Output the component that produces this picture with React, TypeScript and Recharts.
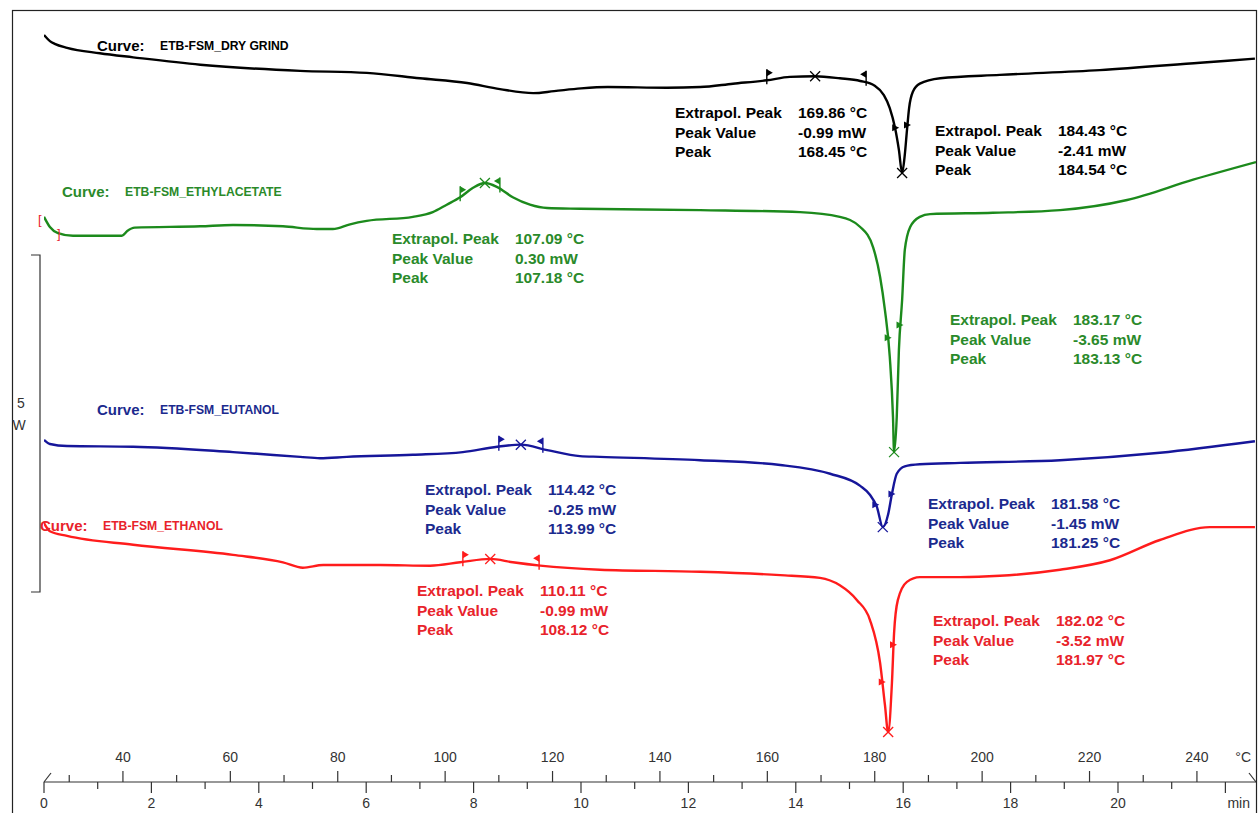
import React from 'react';
import { ComposedChart, Line, Scatter, XAxis, YAxis } from 'recharts';

// ---------------------------------------------------------------------------
// Layout / scale constants
// ---------------------------------------------------------------------------

const W = 1258;
const H = 813;
const FONT = '"Liberation Sans", Arial, sans-serif';

const T_START = 25.3; // °C at 0 min
const RATE = 10; // K/min
const TIME_END = 22.57; // min at right edge of plot
const TEMP_END = T_START + RATE * TIME_END;
const Y_MAX = 11.42; // mW span of the plot (stacked curves)

const COLORS = {
  dry: '#000000',
  ethyl: '#1c8a1c',
  eut: '#16169a',
  eth: '#ff1c1c',
};
const TEXT = {
  dry: '#000000',
  ethyl: '#2a8a2a',
  eut: '#1b2a8e',
  eth: '#e8232b',
};

// ---------------------------------------------------------------------------
// Data (time in min, heat flow in mW incl. stacking offset)
// ---------------------------------------------------------------------------

const dryTime = [0, 0.11, 0.2, 0.43, 1.04, 1.66, 2.91, 4.77, 6.01, 7.0, 7.88, 8.49, 9.11, 9.5, 10.0, 10.5, 11.6, 12.22, 12.83, 13.46, 13.89, 14.36, 14.82, 15.2, 15.47, 15.64, 15.75, 15.85, 15.92, 15.98, 16.03, 16.07, 16.11, 16.18, 16.31, 16.69, 17.8, 19.66, 21.53, 22.55];
const dryFlow = [11.05, 10.96, 10.92, 10.86, 10.78, 10.72, 10.61, 10.52, 10.49, 10.41, 10.34, 10.25, 10.19, 10.22, 10.26, 10.28, 10.27, 10.28, 10.33, 10.38, 10.43, 10.44, 10.41, 10.37, 10.3, 10.16, 9.97, 9.67, 9.35, 9.01, 9.28, 9.64, 9.97, 10.21, 10.33, 10.41, 10.46, 10.53, 10.64, 10.7];

const ethylTime = [0, 0.11, 0.26, 0.54, 1.45, 1.55, 1.69, 2.91, 3.52, 4.45, 5.08, 5.38, 5.7, 6.01, 6.87, 7.24, 7.5, 7.75, 7.99, 8.21, 8.44, 8.73, 9.05, 9.37, 9.98, 12.22, 14.08, 14.82, 15.2, 15.44, 15.57, 15.66, 15.75, 15.81, 15.83, 15.88, 15.92, 15.98, 16.03, 16.13, 16.31, 16.5, 17.67, 18.92, 20.17, 21.4, 22.57];
const ethylFlow = [8.36, 8.21, 8.12, 8.08, 8.08, 8.15, 8.2, 8.22, 8.24, 8.22, 8.18, 8.18, 8.25, 8.3, 8.36, 8.43, 8.54, 8.65, 8.79, 8.86, 8.8, 8.65, 8.54, 8.49, 8.48, 8.46, 8.43, 8.36, 8.21, 7.91, 7.47, 6.98, 6.29, 5.4, 4.88, 5.4, 6.39, 7.13, 7.87, 8.21, 8.36, 8.4, 8.42, 8.46, 8.61, 8.91, 9.17];

const eutTime = [0, 0.11, 0.43, 1.66, 3.52, 4.77, 5.14, 5.64, 6.87, 7.8, 8.44, 8.88, 9.37, 9.98, 10.35, 12.22, 13.71, 14.64, 15.2, 15.38, 15.51, 15.62, 15.72, 15.79, 15.88, 16.03, 16.31, 17.06, 18.92, 20.78, 22.55];
const eutFlow = [5.06, 5.0, 4.97, 4.96, 4.88, 4.81, 4.79, 4.81, 4.84, 4.88, 4.96, 4.99, 4.91, 4.82, 4.81, 4.76, 4.69, 4.56, 4.38, 4.25, 4.07, 3.77, 3.96, 4.26, 4.56, 4.67, 4.7, 4.72, 4.76, 4.87, 5.04];

const ethTime = [0, 0.11, 0.43, 1.66, 3.52, 4.45, 4.82, 5.2, 6.26, 7.19, 7.75, 8.31, 8.73, 9.24, 10.35, 12.22, 13.71, 14.45, 14.82, 15.14, 15.38, 15.57, 15.66, 15.72, 15.79, 15.83, 15.9, 16.07, 16.31, 17.06, 17.8, 18.92, 19.85, 20.78, 21.71, 22.55];
const ethFlow = [3.83, 3.71, 3.64, 3.51, 3.36, 3.25, 3.17, 3.21, 3.21, 3.2, 3.25, 3.3, 3.25, 3.2, 3.14, 3.11, 3.06, 3.02, 2.91, 2.69, 2.4, 1.76, 1.14, 0.74, 1.46, 2.2, 2.69, 2.96, 3.03, 3.03, 3.05, 3.14, 3.28, 3.58, 3.77, 3.77];

// peak positions (X marks), by sample temperature in °C
const dryPeaks = [{ T: 168.9, v: 10.44 }, { T: 185.1, v: 9.01 }];
const ethylPeaks = [{ T: 107.4, v: 8.86 }, { T: 183.6, v: 4.88 }];
const eutPeaks = [{ T: 114.1, v: 4.99 }, { T: 181.5, v: 3.77 }];
const ethPeaks = [{ T: 108.4, v: 3.3 }, { T: 182.5, v: 0.74 }];

// integration limits / onset flags (time in min)
const dryFlags = [
  { t: 13.46, v: 10.38, kind: 'r' },
  { t: 15.31, v: 10.36, kind: 'l' },
  { t: 15.86, v: 9.68, kind: 'tri' },
  { t: 16.08, v: 9.72, kind: 'tri' },
];
const ethylFlags = [
  { t: 7.75, v: 8.65, kind: 'r' },
  { t: 8.49, v: 8.78, kind: 'l' },
  { t: 15.72, v: 6.57, kind: 'tri' },
  { t: 15.94, v: 6.76, kind: 'tri' },
];
const eutFlags = [
  { t: 8.47, v: 4.96, kind: 'r' },
  { t: 9.29, v: 4.93, kind: 'l' },
  { t: 15.49, v: 4.1, kind: 'tri' },
  { t: 15.79, v: 4.26, kind: 'tri' },
];
const ethFlags = [
  { t: 7.8, v: 3.25, kind: 'r' },
  { t: 9.22, v: 3.2, kind: 'l' },
  { t: 15.61, v: 1.48, kind: 'tri' },
  { t: 15.82, v: 2.03, kind: 'tri' },
];

// axis ticks
const timeTicks = [...Array.from({ length: 23 }, (_, i) => i), TIME_END];
const tempTicks = [...Array.from({ length: 22 }, (_, i) => 30 + i * 10), TEMP_END];

// annotation texts
const curveNames = ['ETB-FSM_DRY GRIND', 'ETB-FSM_ETHYLACETATE', 'ETB-FSM_EUTANOL', 'ETB-FSM_ETHANOL'];
const peakLabels = ['Extrapol. Peak', 'Peak Value', 'Peak'];
const dryLeft = ['169.86 °C', '-0.99 mW', '168.45 °C'];
const dryRight = ['184.43 °C', '-2.41 mW', '184.54 °C'];
const ethylLeft = ['107.09 °C', '0.30 mW', '107.18 °C'];
const ethylRight = ['183.17 °C', '-3.65 mW', '183.13 °C'];
const eutLeft = ['114.42 °C', '-0.25 mW', '113.99 °C'];
const eutRight = ['181.58 °C', '-1.45 mW', '181.25 °C'];
const ethLeft = ['110.11 °C', '-0.99 mW', '108.12 °C'];
const ethRight = ['182.02 °C', '-3.52 mW', '181.97 °C'];

const zip = (t: number[], v: number[]) => t.map((x, i) => ({ t: x, v: v[i] }));

// ---------------------------------------------------------------------------
// Marks
// ---------------------------------------------------------------------------

function PeakX({ cx, cy, color }: any) {
  if (cx == null || cy == null) return null;
  const d = 5;
  return (
    <g stroke={color} strokeWidth={1.3}>
      <line x1={cx - d} y1={cy - d} x2={cx + d} y2={cy + d} />
      <line x1={cx - d} y1={cy + d} x2={cx + d} y2={cy - d} />
    </g>
  );
}

function Flag({ cx, cy, payload, color }: any) {
  if (cx == null || cy == null) return null;
  const k = payload.kind;
  if (k === 'tri') {
    return <polygon points={`${cx - 3.5},${cy - 3.5} ${cx + 3.5},${cy} ${cx - 3.5},${cy + 3.5}`} fill={color} />;
  }
  const s = k === 'r' ? 1 : -1;
  const top = cy - 11;
  return (
    <g>
      <line x1={cx} y1={cy + 4} x2={cx} y2={top} stroke={color} strokeWidth={1.4} />
      <polygon points={`${cx},${top} ${cx + s * 6},${top + 3.5} ${cx},${top + 7}`} fill={color} />
    </g>
  );
}

// ---------------------------------------------------------------------------
// Axis ticks (both axes share the same baseline at y = 782)
// ---------------------------------------------------------------------------

const AX = '#333';
const BASE_Y = 782;

function TimeTick({ x, payload }: any) {
  const y = BASE_Y;
  const v = payload.value;
  if (Math.abs(v - TIME_END) < 1e-6) {
    return (
      <g>
        <line x1={x - 7} y1={y - 9} x2={x} y2={y} stroke={AX} strokeWidth={1.2} />
        <text x={x - 6} y={y + 21} textAnchor="end" dominantBaseline="central" fill={AX} fontSize={14} fontFamily={FONT}>
          min
        </text>
      </g>
    );
  }
  const major = v % 2 === 0;
  return (
    <g>
      <line x1={x} y1={y} x2={x} y2={y + (major ? 11 : 7)} stroke={AX} strokeWidth={1.2} />
      {v === 0 && <line x1={x} y1={y} x2={x + 7} y2={y - 9} stroke={AX} strokeWidth={1.2} />}
      {major && v <= 20 && (
        <text x={x} y={y + 21} textAnchor="middle" dominantBaseline="central" fill={AX} fontSize={14} fontFamily={FONT}>
          {v}
        </text>
      )}
    </g>
  );
}

function TempTick({ x, payload }: any) {
  const y = BASE_Y;
  const v = payload.value;
  if (Math.abs(v - TEMP_END) < 1e-6) {
    return (
      <text x={x - 5} y={y - 25} textAnchor="end" dominantBaseline="central" fill={AX} fontSize={14} fontFamily={FONT}>
        °C
      </text>
    );
  }
  const major = v % 20 === 0;
  return (
    <g>
      <line x1={x} y1={y} x2={x} y2={y - (major ? 11 : 7)} stroke={AX} strokeWidth={1.2} />
      {major && (
        <text x={x} y={y - 25} textAnchor="middle" dominantBaseline="central" fill={AX} fontSize={14} fontFamily={FONT}>
          {v}
        </text>
      )}
    </g>
  );
}

// ---------------------------------------------------------------------------
// Text overlays
// ---------------------------------------------------------------------------

function Txt({ x, y, color, size, bold = true, children }: any) {
  return (
    <div
      style={{
        position: 'absolute',
        left: x,
        top: y,
        transform: 'translateY(-50%)',
        fontSize: size,
        fontWeight: bold ? 700 : 400,
        color,
        whiteSpace: 'nowrap',
        lineHeight: 1,
      }}
    >
      {children}
    </div>
  );
}

function CurveTitle({ x, y, name, color }: any) {
  return (
    <>
      <Txt x={x} y={y} color={color} size={15}>Curve:</Txt>
      <Txt x={x + 63} y={y + 1} color={color} size={12.2}>{name}</Txt>
    </>
  );
}

function PeakBlock({ x, y, values, color }: any) {
  return (
    <>
      {peakLabels.map((lab, i) => (
        <React.Fragment key={lab}>
          <Txt x={x} y={y + i * 19.6} color={color} size={15.5}>{lab}</Txt>
          <Txt x={x + 123} y={y + i * 19.6} color={color} size={15.5}>{values[i]}</Txt>
        </React.Fragment>
      ))}
    </>
  );
}

// ---------------------------------------------------------------------------
// Component
// ---------------------------------------------------------------------------

export default function App() {
  const series = [
    { key: 'dry', data: zip(dryTime, dryFlow), peaks: dryPeaks, flags: dryFlags },
    { key: 'ethyl', data: zip(ethylTime, ethylFlow), peaks: ethylPeaks, flags: ethylFlags },
    { key: 'eut', data: zip(eutTime, eutFlow), peaks: eutPeaks, flags: eutFlags },
    { key: 'eth', data: zip(ethTime, ethFlow), peaks: ethPeaks, flags: ethFlags },
  ] as const;

  return (
    <div
      style={{
        position: 'absolute',
        left: 0,
        top: 0,
        width: W,
        height: H,
        overflow: 'hidden',
        background: '#fff',
        fontFamily: FONT,
      }}
    >
      {/* frame + scale bar */}
      <svg width={W} height={H} style={{ position: 'absolute', left: 0, top: 0 }}>
        <rect x={12.5} y={10.5} width={1244} height={830} fill="none" stroke="#222" strokeWidth={1.2} />
        <polyline points="31,255 40,255 40,592 31,592" fill="none" stroke="#333" strokeWidth={1.2} />
        <text x={21} y={403} textAnchor="middle" dominantBaseline="central" fontSize={14} fill="#333" fontFamily={FONT}>5</text>
        <text x={19} y={425} textAnchor="middle" dominantBaseline="central" fontSize={14} fill="#333" fontFamily={FONT}>W</text>
      </svg>

      <div style={{ position: 'absolute', left: 0, top: 0 }}>
        {/* plot bottom = 813 - 29 - 2 axis heights = 782 */}
        <ComposedChart width={W} height={H} margin={{ top: 10, right: 2, bottom: 29, left: 44 }}>
          <XAxis
            xAxisId="time"
            type="number"
            dataKey="t"
            domain={[0, TIME_END]}
            allowDataOverflow
            ticks={timeTicks}
            interval={0}
            height={1}
            tickSize={0}
            tickMargin={0}
            tickLine={false}
            axisLine={false}
            tick={(p: any) => <TimeTick {...p} />}
          />
          <XAxis
            xAxisId="temp"
            type="number"
            dataKey="T"
            domain={[T_START, TEMP_END]}
            allowDataOverflow
            ticks={tempTicks}
            interval={0}
            height={1}
            tickSize={0}
            tickMargin={0}
            tickLine={false}
            axisLine={false}
            tick={(p: any) => <TempTick {...p} />}
          />
          <YAxis yAxisId={0} type="number" dataKey="v" domain={[0, Y_MAX]} allowDataOverflow hide />

          {series.map((s) => (
            <Line
              key={s.key}
              xAxisId="time"
              yAxisId={0}
              data={s.data}
              dataKey="v"
              type="monotone"
              stroke={COLORS[s.key]}
              strokeWidth={2.4}
              dot={false}
              isAnimationActive={false}
            />
          ))}
          {series.map((s) => (
            <Scatter
              key={`${s.key}-x`}
              xAxisId="temp"
              yAxisId={0}
              data={s.peaks}
              dataKey="v"
              isAnimationActive={false}
              shape={(p: any) => <PeakX {...p} color={COLORS[s.key]} />}
            />
          ))}
          {series.map((s) => (
            <Scatter
              key={`${s.key}-f`}
              xAxisId="time"
              yAxisId={0}
              data={s.flags}
              dataKey="v"
              isAnimationActive={false}
              shape={(p: any) => <Flag {...p} color={COLORS[s.key]} />}
            />
          ))}
        </ComposedChart>
      </div>

      {/* time axis baseline: spans the plot width */}
      <svg width={W} height={H} style={{ position: 'absolute', left: 0, top: 0, pointerEvents: 'none' }}>
        <line x1={44} y1={BASE_Y} x2={1256} y2={BASE_Y} stroke={AX} strokeWidth={1.2} />
      </svg>

      {/* curve titles */}
      <CurveTitle x={97} y={45} name={curveNames[0]} color={TEXT.dry} />
      <CurveTitle x={62} y={191} name={curveNames[1]} color={TEXT.ethyl} />
      <CurveTitle x={97} y={409} name={curveNames[2]} color={TEXT.eut} />
      <CurveTitle x={40} y={525} name={curveNames[3]} color={TEXT.eth} />

      {/* red range brackets */}
      <Txt x={38} y={219} color="#e8232b" size={13} bold={false}>[</Txt>
      <Txt x={57} y={233} color="#e8232b" size={13} bold={false}>]</Txt>

      {/* peak evaluation blocks */}
      <PeakBlock x={675} y={113} values={dryLeft} color={TEXT.dry} />
      <PeakBlock x={935} y={131} values={dryRight} color={TEXT.dry} />
      <PeakBlock x={392} y={239} values={ethylLeft} color={TEXT.ethyl} />
      <PeakBlock x={950} y={320} values={ethylRight} color={TEXT.ethyl} />
      <PeakBlock x={425} y={490} values={eutLeft} color={TEXT.eut} />
      <PeakBlock x={928} y={504} values={eutRight} color={TEXT.eut} />
      <PeakBlock x={417} y={591} values={ethLeft} color={TEXT.eth} />
      <PeakBlock x={933} y={621} values={ethRight} color={TEXT.eth} />
    </div>
  );
}
